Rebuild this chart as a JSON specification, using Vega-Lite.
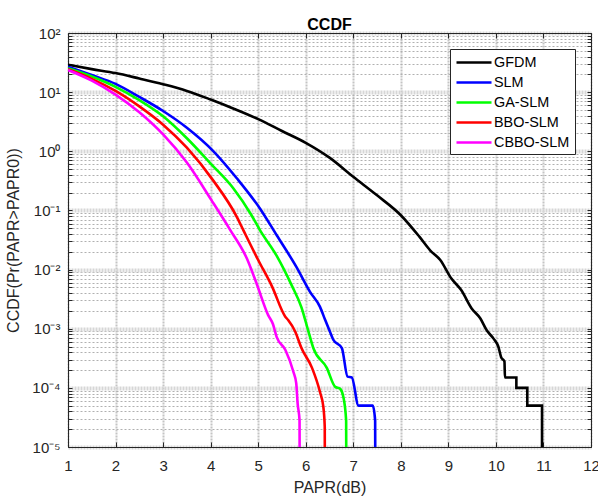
{
  "$schema": "https://vega.github.io/schema/vega-lite/v6.json",
  "autosize": {"type": "none"},
  "padding": {"left": 68, "top": 33, "right": 7, "bottom": 54},
  "width": 523,
  "height": 414,
  "background": "white",
  "title": {"text": "CCDF", "font": "Liberation Sans", "fontSize": 16, "fontWeight": "bold", "color": "#000000", "baseline": "alphabetic", "offset": -20, "anchor": "middle"},
  "config": {
    "view": {"stroke": null},
    "axis": {"labelFont": "Liberation Sans", "titleFont": "Liberation Sans", "labelColor": "#262626", "titleColor": "#262626", "tickColor": "#262626", "domainColor": "#262626", "titleFontWeight": "normal"}
  },
  "data": {"values": [
    {"s":"GFDM","i":1,"x":1,"y":29},{"s":"GFDM","i":2,"x":1.5,"y":24.5},{"s":"GFDM","i":3,"x":2,"y":21},{"s":"GFDM","i":4,"x":2.5,"y":17},{"s":"GFDM","i":5,"x":3,"y":13.6},{"s":"GFDM","i":6,"x":3.5,"y":10.5},{"s":"GFDM","i":7,"x":4,"y":7.5},{"s":"GFDM","i":8,"x":4.5,"y":5.2},{"s":"GFDM","i":9,"x":5,"y":3.5},{"s":"GFDM","i":10,"x":5.5,"y":2.2},{"s":"GFDM","i":11,"x":6,"y":1.39},{"s":"GFDM","i":12,"x":6.5,"y":0.78},{"s":"GFDM","i":13,"x":7,"y":0.37},{"s":"GFDM","i":14,"x":7.5,"y":0.18},{"s":"GFDM","i":15,"x":8,"y":0.083},{"s":"GFDM","i":16,"x":8.39,"y":0.036},{"s":"GFDM","i":17,"x":8.62,"y":0.021},{"s":"GFDM","i":18,"x":8.83,"y":0.0145},{"s":"GFDM","i":19,"x":9.06,"y":0.0071},{"s":"GFDM","i":20,"x":9.27,"y":0.0045},{"s":"GFDM","i":21,"x":9.49,"y":0.0022},{"s":"GFDM","i":22,"x":9.67,"y":0.0015},{"s":"GFDM","i":23,"x":9.81,"y":0.00093},{"s":"GFDM","i":24,"x":9.95,"y":0.00068},{"s":"GFDM","i":25,"x":10.05,"y":0.0005},{"s":"GFDM","i":26,"x":10.11,"y":0.00033},{"s":"GFDM","i":27,"x":10.18,"y":0.00028},{"s":"GFDM","i":28,"x":10.19,"y":0.00015},{"s":"GFDM","i":29,"x":10.43,"y":0.00015},{"s":"GFDM","i":30,"x":10.43,"y":0.0001},{"s":"GFDM","i":31,"x":10.66,"y":0.0001},{"s":"GFDM","i":32,"x":10.66,"y":0.00005},{"s":"GFDM","i":33,"x":10.97,"y":0.00005},{"s":"GFDM","i":34,"x":10.97,"y":1e-7},
    {"s":"SLM","i":1,"x":1,"y":27},{"s":"SLM","i":2,"x":1.5,"y":19.5},{"s":"SLM","i":3,"x":2,"y":13.8},{"s":"SLM","i":4,"x":2.5,"y":8.3},{"s":"SLM","i":5,"x":3,"y":4.8},{"s":"SLM","i":6,"x":3.5,"y":2.5},{"s":"SLM","i":7,"x":4.06,"y":1.0},{"s":"SLM","i":8,"x":4.55,"y":0.35},{"s":"SLM","i":9,"x":5.04,"y":0.107},{"s":"SLM","i":10,"x":5.39,"y":0.038},{"s":"SLM","i":12,"x":5.8,"y":0.0112},{"s":"SLM","i":13,"x":6.09,"y":0.0042},{"s":"SLM","i":14,"x":6.3,"y":0.00234},{"s":"SLM","i":15,"x":6.41,"y":0.0014},{"s":"SLM","i":16,"x":6.51,"y":0.00089},{"s":"SLM","i":17,"x":6.58,"y":0.00065},{"s":"SLM","i":18,"x":6.76,"y":0.00047},{"s":"SLM","i":19,"x":6.88,"y":0.000155},{"s":"SLM","i":20,"x":6.97,"y":0.00015},{"s":"SLM","i":21,"x":7.11,"y":0.00005},{"s":"SLM","i":22,"x":7.41,"y":0.00005},{"s":"SLM","i":23,"x":7.46,"y":0.000028},{"s":"SLM","i":24,"x":7.47,"y":1e-7},
    {"s":"GA-SLM","i":1,"x":1,"y":25.3},{"s":"GA-SLM","i":2,"x":1.5,"y":18.4},{"s":"GA-SLM","i":3,"x":2,"y":12.3},{"s":"GA-SLM","i":4,"x":2.5,"y":7.3},{"s":"GA-SLM","i":5,"x":3,"y":3.9},{"s":"GA-SLM","i":6,"x":3.5,"y":1.66},{"s":"GA-SLM","i":7,"x":4,"y":0.62},{"s":"GA-SLM","i":8,"x":4.48,"y":0.235},{"s":"GA-SLM","i":9,"x":4.86,"y":0.083},{"s":"GA-SLM","i":10,"x":5.04,"y":0.046},{"s":"GA-SLM","i":11,"x":5.39,"y":0.017},{"s":"GA-SLM","i":13,"x":5.7,"y":0.0055},{"s":"GA-SLM","i":14,"x":5.91,"y":0.0023},{"s":"GA-SLM","i":15,"x":6.05,"y":0.00094},{"s":"GA-SLM","i":16,"x":6.16,"y":0.00047},{"s":"GA-SLM","i":17,"x":6.44,"y":0.00022},{"s":"GA-SLM","i":18,"x":6.62,"y":0.000104},{"s":"GA-SLM","i":19,"x":6.72,"y":0.000097},{"s":"GA-SLM","i":20,"x":6.79,"y":0.000071},{"s":"GA-SLM","i":21,"x":6.85,"y":0.000028},{"s":"GA-SLM","i":22,"x":6.86,"y":1e-7},
    {"s":"BBO-SLM","i":1,"x":1,"y":24.3},{"s":"BBO-SLM","i":2,"x":1.5,"y":16.8},{"s":"BBO-SLM","i":3,"x":2,"y":10.5},{"s":"BBO-SLM","i":4,"x":2.5,"y":5.75},{"s":"BBO-SLM","i":5,"x":3,"y":2.82},{"s":"BBO-SLM","i":6,"x":3.5,"y":1.15},{"s":"BBO-SLM","i":7,"x":4.06,"y":0.316},{"s":"BBO-SLM","i":8,"x":4.55,"y":0.078},{"s":"BBO-SLM","i":9,"x":4.69,"y":0.046},{"s":"BBO-SLM","i":10,"x":5,"y":0.0145},{"s":"BBO-SLM","i":11,"x":5.29,"y":0.0052},{"s":"BBO-SLM","i":12,"x":5.57,"y":0.0016},{"s":"BBO-SLM","i":13,"x":5.63,"y":0.0014},{"s":"BBO-SLM","i":14,"x":5.78,"y":0.00089},{"s":"BBO-SLM","i":15,"x":5.91,"y":0.00047},{"s":"BBO-SLM","i":16,"x":6.13,"y":0.00022},{"s":"BBO-SLM","i":17,"x":6.3,"y":0.000085},{"s":"BBO-SLM","i":18,"x":6.37,"y":0.000048},{"s":"BBO-SLM","i":19,"x":6.4,"y":0.000022},{"s":"BBO-SLM","i":20,"x":6.41,"y":1e-7},
    {"s":"CBBO-SLM","i":1,"x":1,"y":23.7},{"s":"CBBO-SLM","i":2,"x":1.5,"y":15.7},{"s":"CBBO-SLM","i":3,"x":2,"y":9.1},{"s":"CBBO-SLM","i":4,"x":2.5,"y":4.57},{"s":"CBBO-SLM","i":5,"x":3,"y":1.93},{"s":"CBBO-SLM","i":6,"x":3.5,"y":0.645},{"s":"CBBO-SLM","i":7,"x":4.02,"y":0.148},{"s":"CBBO-SLM","i":8,"x":4.41,"y":0.047},{"s":"CBBO-SLM","i":9,"x":4.76,"y":0.0155},{"s":"CBBO-SLM","i":10,"x":4.97,"y":0.0057},{"s":"CBBO-SLM","i":11,"x":5.21,"y":0.0017},{"s":"CBBO-SLM","i":12,"x":5.31,"y":0.0012},{"s":"CBBO-SLM","i":13,"x":5.39,"y":0.00072},{"s":"CBBO-SLM","i":14,"x":5.57,"y":0.00044},{"s":"CBBO-SLM","i":15,"x":5.74,"y":0.000187},{"s":"CBBO-SLM","i":16,"x":5.8,"y":0.00012},{"s":"CBBO-SLM","i":17,"x":5.83,"y":0.000054},{"s":"CBBO-SLM","i":18,"x":5.87,"y":0.000028},{"s":"CBBO-SLM","i":19,"x":5.88,"y":1e-7}
  ]},
  "resolve": {"axis": {"x": "independent", "y": "independent"}},
  "layer": [
    {
      "mark": {"type": "line", "clip": true, "interpolate": "monotone"},
      "encoding": {
        "x": {"field": "x", "type": "quantitative",
          "scale": {"domain": [1, 12], "nice": false, "zero": false},
          "axis": {"orient": "bottom", "values": [1,2,3,4,5,6,7,8,9,10,11,12], "title": "PAPR(dB)", "titleFontSize": 16, "titlePadding": 6,
            "labelFontSize": 15, "labelPadding": 16, "tickSize": -5, "grid": true, "gridColor": "#c4c4c4", "gridWidth": 2, "gridDash": [2, 1], "labelFlush": false, "labelOverlap": false}},
        "y": {"field": "y", "type": "quantitative",
          "scale": {"type": "log", "domain": [0.00001, 100], "nice": false},
          "axis": {"orient": "left", "title": "CCDF(Pr(PAPR>PAPR0))", "titleFontSize": 16, "titlePadding": 10,
            "values": [0.00001,0.00002,0.00003,0.00004,0.00005,0.00006,0.00007,0.00008,0.00009,0.0001,0.0002,0.0003,0.0004,0.0005,0.0006,0.0007,0.0008,0.0009,0.001,0.002,0.003,0.004,0.005,0.006,0.007,0.008,0.009,0.01,0.02,0.03,0.04,0.05,0.06,0.07,0.08,0.09,0.1,0.2,0.3,0.4,0.5,0.6,0.7,0.8,0.9,1,2,3,4,5,6,7,8,9,10,20,30,40,50,60,70,80,90,100],
            "labelExpr": "abs(log(datum.value)/LN10 - round(log(datum.value)/LN10)) < 0.001 ? ['10⁻⁵','10⁻⁴','10⁻³','10⁻²','10⁻¹','10⁰','10¹','10²'][round(log(datum.value)/LN10)+5] : ''",
            "labelFontSize": 15, "labelPadding": 12, "labelOverlap": false, "labelFlush": false, "tickSize": -4,
            "grid": true,
            "gridColor": {"condition": {"test": "abs(log(datum.value)/LN10 - round(log(datum.value)/LN10)) < 0.001", "value": "#d6d6d6"}, "value": "#b0b0b0"},
            "gridWidth": {"condition": {"test": "abs(log(datum.value)/LN10 - round(log(datum.value)/LN10)) < 0.001", "value": 4}, "value": 1},
            "gridDash": {"condition": {"test": "abs(log(datum.value)/LN10 - round(log(datum.value)/LN10)) < 0.001", "value": [2, 1]}, "value": [2, 2]}}},
        "color": {"field": "s", "type": "nominal",
          "scale": {"domain": ["GFDM", "SLM", "GA-SLM", "BBO-SLM", "CBBO-SLM"], "range": ["#000000", "#0000ff", "#00ff00", "#ff0000", "#ff00ff"]},
          "legend": {"orient": "none", "legendX": 382, "legendY": 16, "title": null, "fillColor": "white", "strokeColor": "#262626", "padding": 5,
            "labelFont": "Liberation Sans", "labelFontSize": 14.4, "labelColor": "#000000", "symbolType": "M-1,0H4", "symbolSize": 196, "labelOffset": 22, "rowPadding": 5, "labelLimit": 200}},
        "strokeWidth": {"field": "s", "type": "nominal",
          "scale": {"domain": ["GFDM", "SLM", "GA-SLM", "BBO-SLM", "CBBO-SLM"], "range": [2.6, 2.6, 1.5, 1.5, 1.5]},
          "legend": {"orient": "none", "legendX": 382, "legendY": 16, "title": null}},
        "order": {"field": "i", "type": "quantitative"}
      }
    },
    {
      "mark": {"type": "line", "opacity": 0},
      "encoding": {
        "x": {"field": "x", "type": "quantitative",
          "axis": {"orient": "top", "values": [1,2,3,4,5,6,7,8,9,10,11,12], "labels": false, "title": null, "tickSize": -5, "grid": false}},
        "y": {"field": "y", "type": "quantitative",
          "axis": {"orient": "right", "labels": false, "title": null, "tickSize": -4, "grid": false,
            "values": [0.00001,0.00002,0.00003,0.00004,0.00005,0.00006,0.00007,0.00008,0.00009,0.0001,0.0002,0.0003,0.0004,0.0005,0.0006,0.0007,0.0008,0.0009,0.001,0.002,0.003,0.004,0.005,0.006,0.007,0.008,0.009,0.01,0.02,0.03,0.04,0.05,0.06,0.07,0.08,0.09,0.1,0.2,0.3,0.4,0.5,0.6,0.7,0.8,0.9,1,2,3,4,5,6,7,8,9,10,20,30,40,50,60,70,80,90,100]}},
        "detail": {"field": "s"}
      }
    }
  ]
}
